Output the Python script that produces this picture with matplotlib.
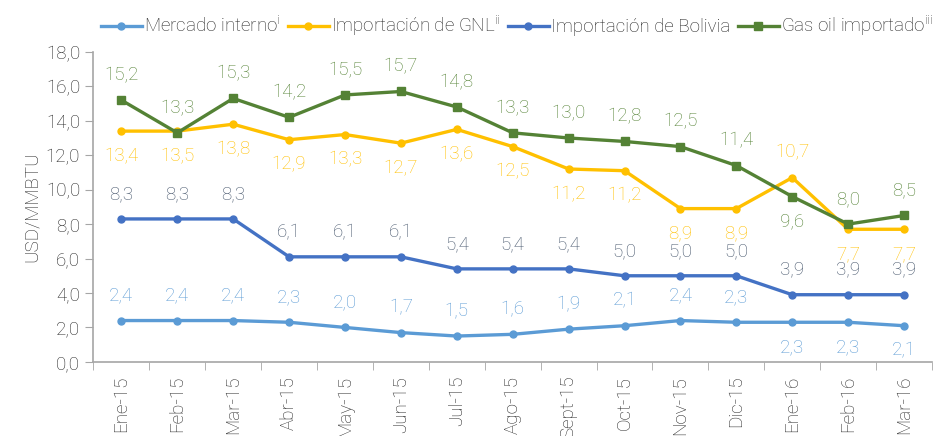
import matplotlib
matplotlib.use("Agg")
import matplotlib.pyplot as plt
import numpy as np

plt.rcParams['font.family'] = ['Roboto', 'DejaVu Sans']
plt.rcParams['font.weight'] = 'light'
plt.rcParams['mathtext.fontset'] = 'custom'
plt.rcParams['mathtext.rm'] = 'Roboto:light'

meses = ['Ene-15', 'Feb-15', 'Mar-15', 'Abr-15', 'May-15', 'Jun-15', 'Jul-15',
         'Ago-15', 'Sept-15', 'Oct-15', 'Nov-15', 'Dic-15', 'Ene-16', 'Feb-16', 'Mar-16']

mercado = [2.4, 2.4, 2.4, 2.3, 2.0, 1.7, 1.5, 1.6, 1.9, 2.1, 2.4, 2.3, 2.3, 2.3, 2.1]
gnl = [13.4, 13.4, 13.8, 12.9, 13.2, 12.7, 13.5, 12.5, 11.2, 11.1, 8.9, 8.9, 10.7, 7.7, 7.7]
gnl_lbl = [13.4, 13.5, 13.8, 12.9, 13.3, 12.7, 13.6, 12.5, 11.2, 11.2, 8.9, 8.9, 10.7, 7.7, 7.7]
bolivia = [8.3, 8.3, 8.3, 6.1, 6.1, 6.1, 5.4, 5.4, 5.4, 5.0, 5.0, 5.0, 3.9, 3.9, 3.9]
gasoil = [15.2, 13.3, 15.3, 14.2, 15.5, 15.7, 14.8, 13.3, 13.0, 12.8, 12.5, 11.4, 9.6, 8.0, 8.5]

# posicion de etiquetas: 1 arriba, -1 abajo
pos_mercado = [1]*12 + [-1]*3
pos_gnl = [-1]*12 + [1, -1, -1]
pos_bolivia = [1]*15
pos_gasoil = [1]*12 + [-1, 1, 1]

c_merc = '#5B9BD5'
c_gnl = '#FFC000'
c_bol = '#4472C4'
c_bol_txt = '#44546A'
c_gas = '#548235'
c_txt = '#262626'

fig = plt.figure(figsize=(9.53, 4.36), dpi=100)
ax = fig.add_axes([0.098, 0.170, 0.880, 0.711])
x = np.arange(len(meses))

ax.plot(x, mercado, color=c_merc, lw=2.4, marker='o', ms=5,
        label='Mercado interno$^{\\mathrm{i}}$')
ax.plot(x, gnl, color=c_gnl, lw=2.4, marker='o', ms=5,
        label='Importación de GNL$^{\\mathrm{ii}}$')
ax.plot(x, bolivia, color=c_bol, lw=2.4, marker='o', ms=5,
        label='Importación de Bolivia')
ax.plot(x, gasoil, color=c_gas, lw=2.4, marker='s', ms=6,
        label='Gas oil importado$^{\\mathrm{iii}}$')

def etiquetas(vals, lbls, pos, color):
    for i, (v, l, p) in enumerate(zip(vals, lbls, pos)):
        ax.annotate(f'{l:.1f}'.replace('.', ','), (i, v), xytext=(0, 18*p),
                    textcoords='offset points', ha='center', va='center',
                    fontsize=13.5, color=color)

etiquetas(mercado, mercado, pos_mercado, c_merc)
etiquetas(gnl, gnl_lbl, pos_gnl, c_gnl)
etiquetas(bolivia, bolivia, pos_bolivia, c_bol_txt)
etiquetas(gasoil, gasoil, pos_gasoil, c_gas)

ax.set_xlim(-0.5, len(meses) - 0.5)
ax.set_ylim(0, 18)
ax.set_yticks(np.arange(0, 18.1, 2))
ax.set_yticklabels([f'{v:.1f}'.replace('.', ',') for v in np.arange(0, 18.1, 2)],
                   fontsize=13.5, color=c_txt)
ax.set_xticks(x)
ax.set_xticklabels(meses, rotation=90, fontsize=13.5, color=c_txt)
ax.set_xticks(np.arange(-0.5, len(meses), 1), minor=True)
ax.tick_params(axis='x', which='major', length=0, pad=10)
ax.tick_params(axis='x', which='minor', length=6, color='#A6A6A6')
ax.tick_params(axis='y', length=6, color='#A6A6A6')
ax.set_ylabel('USD/MMBTU', fontsize=13.5, color=c_txt, fontweight='light')

for s in ['top', 'right']:
    ax.spines[s].set_visible(False)
for s in ['left', 'bottom']:
    ax.spines[s].set_color('#A6A6A6')
    ax.spines[s].set_linewidth(1.2)

ax.legend(loc='lower center', bbox_to_anchor=(0.505, 0.99), ncol=4, frameon=False,
          fontsize=13.5, handlelength=2.2, handletextpad=0.1, columnspacing=0.4,
          labelcolor=c_txt)

fig.savefig('out.png', dpi=100)
